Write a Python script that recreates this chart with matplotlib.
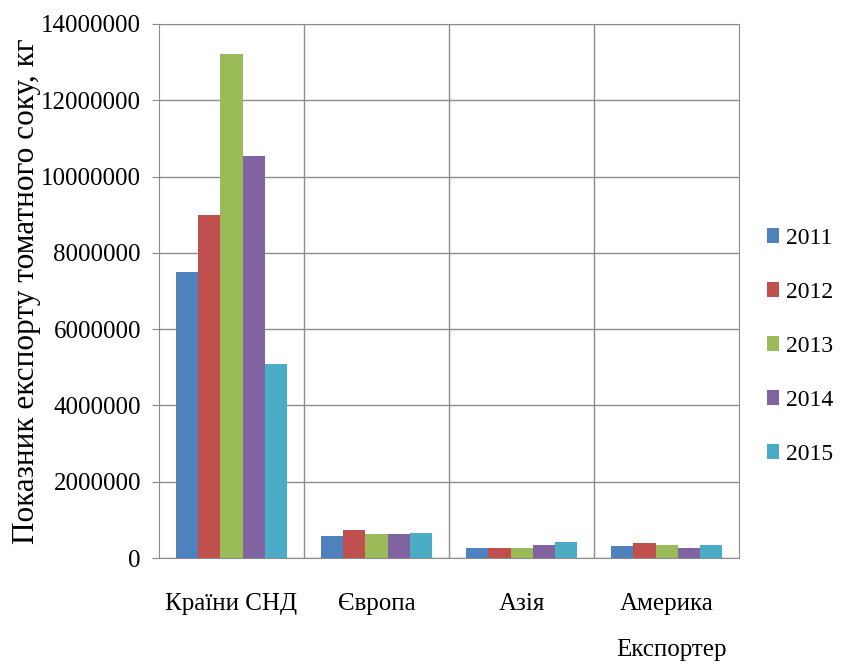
import numpy as np
from matplotlib import pyplot as plt
from matplotlib.ticker import MultipleLocator, FixedLocator, StrMethodFormatter

plt.rcParams['font.family'] = ['Liberation Serif', 'DejaVu Serif']

regions = ['Країни СНД', 'Європа', 'Азія', 'Америка']
years = ['2011', '2012', '2013', '2014', '2015']
colors = ['#4F81BD', '#C0504D', '#9BBB59', '#8064A2', '#4BACC6']

# export, kg, by year (rows) and region (columns)
y2011 = [7500000, 580000, 260000, 310000]
y2012 = [9000000, 730000, 260000, 390000]
y2013 = [13200000, 620000, 260000, 340000]
y2014 = [10550000, 620000, 340000, 260000]
y2015 = [5100000, 670000, 410000, 340000]
series = [y2011, y2012, y2013, y2014, y2015]

fig = plt.figure(figsize=(8.41, 6.66), dpi=100)
ax = fig.add_axes([0.189, 0.162, 0.690, 0.802])

x = np.arange(len(regions))
w = 0.153
for i, vals in enumerate(series):
    ax.bar(x + (i - 2) * w, vals, width=w, color=colors[i], label=years[i], zorder=3)

ax.set_xlim(-0.5, len(regions) - 0.5)
ax.set_ylim(0, 14000000)
ax.yaxis.set_major_locator(MultipleLocator(2000000))
ax.yaxis.set_major_formatter(StrMethodFormatter('{x:.0f}'))
ax.set_xticks(x)
ax.set_xticklabels(regions)
ax.xaxis.set_minor_locator(FixedLocator([0.5, 1.5, 2.5]))
ax.grid(True, axis='y', which='major', color='#8c8c8c', linewidth=1.0, zorder=0)
ax.grid(True, axis='x', which='minor', color='#8c8c8c', linewidth=1.0, zorder=0)
ax.tick_params(axis='x', which='both', length=0, pad=25, labelsize=18)
ax.tick_params(axis='y', length=5, color='#8c8c8c', pad=8, labelsize=18)
for s in ax.spines.values():
    s.set_color('#8c8c8c')

ax.set_ylabel('Показник експорту томатного соку, кг', fontsize=22.5, labelpad=0)
fig.text(0.798, 0.024, 'Експортер', fontsize=18, ha='center', va='center')

fig.legend(loc='center left', bbox_to_anchor=(0.912, 0.48), frameon=False,
           fontsize=17, handlelength=0.5, handleheight=0.6, handletextpad=0.3,
           labelspacing=1.4, borderpad=0, borderaxespad=0)

fig.savefig('out.png', dpi=100)
